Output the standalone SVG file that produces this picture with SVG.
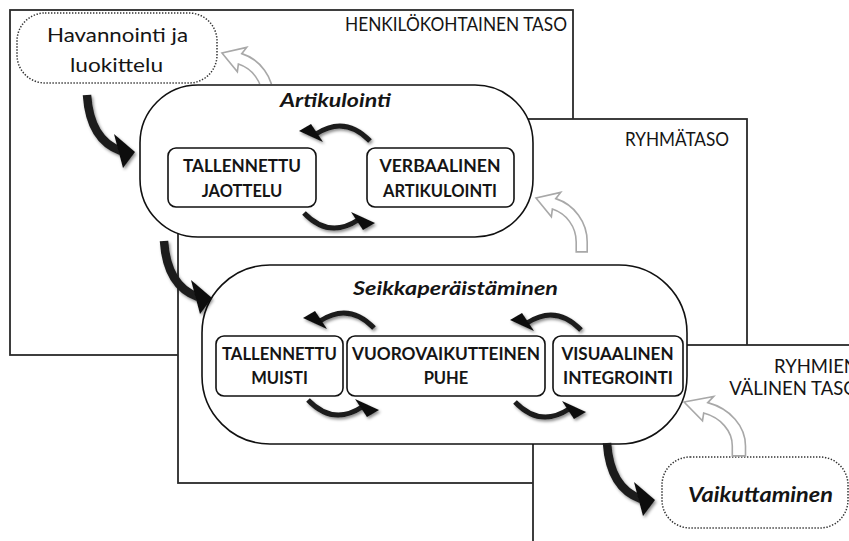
<svg xmlns="http://www.w3.org/2000/svg" width="849" height="541" viewBox="0 0 849 541">
  <style>
    text { font-family: Lato, "Open Sans", "Liberation Sans", sans-serif; fill: #151515; }
    .level { fill: #fff; stroke: #2a2a2a; stroke-width: 1.8; }
    .lvl-label { font-size: 18.5px; }
    .stage { fill: #fff; stroke: #111; stroke-width: 1.6; }
    .stage-title { font-size: 18px; font-weight: 700; font-style: italic; text-anchor: middle; }
    .step { fill: #fff; stroke: #111; stroke-width: 1.6; }
    .step-label { font-size: 16.5px; font-weight: 700; text-anchor: middle; }
    .endpoint { fill: #fff; stroke: #333; stroke-width: 1.5; stroke-dasharray: 1.4 1.6; }
    .flow-shaft { fill: none; stroke: #1c1c1c; stroke-width: 8.5; }
    .flow-head { fill: #111; }
    .cycle-shaft { fill: none; stroke: #1a1a1a; stroke-width: 5; }
    .cycle-head { fill: #111; }
    .feedback { fill: #fff; stroke: #a8a8a8; stroke-width: 1.6; stroke-linejoin: miter; }
  </style>
  <defs>
    <filter id="soft-shadow" x="-30%" y="-30%" width="160%" height="160%">
      <feDropShadow dx="1.5" dy="2" stdDeviation="1.6" flood-color="#000" flood-opacity="0.45"/>
    </filter>
    <clipPath id="above-artikulointi">
      <rect x="0" y="0" width="849" height="84"/>
    </clipPath>
    <!-- thick black flow arrow, tip at origin -->
    <g id="flow-arrow">
      <path class="flow-shaft" d="M -48 -57 Q -45 -12 -14 -1"/>
      <polygon class="flow-head" points="-21,-18 0,0 -12,16"/>
    </g>
    <!-- small cycle arrow, relative to the centre of the cycle -->
    <g id="cycle-arrow">
      <path class="cycle-shaft" d="M 33 -36 Q 8 -62 -21 -43"/>
      <polygon class="cycle-head" points="-38,-46 -26,-53 -14,-35"/>
    </g>
    <!-- hollow grey feedback arrow -->
    <path id="feedback-arrow" class="feedback" vector-effect="non-scaling-stroke" d="M 42.5 66 L 53.5 66 L 53.5 56 A 45.5 45.5 0 0 0 22.06 12.73 L 26.99 6.5 L 2.29 12.09 L 17.67 30.8 L 18.66 23.19 A 34.5 34.5 0 0 1 42.5 56 Z"/>
  </defs>

  <rect width="849" height="541" fill="#fff"/>

  <!-- levels -->
  <g id="level-personal">
    <rect class="level" x="10" y="10" width="563" height="345"/>
    <text class="lvl-label" x="567" y="31" text-anchor="end" textLength="222" lengthAdjust="spacingAndGlyphs">HENKILÖKOHTAINEN TASO</text>
  </g>
  <g id="level-group">
    <rect class="level" x="178" y="119" width="569" height="364"/>
    <text class="lvl-label" x="729" y="146" text-anchor="end" textLength="104" lengthAdjust="spacingAndGlyphs">RYHMÄTASO</text>
  </g>
  <g id="level-intergroup">
    <rect class="level" x="533" y="345" width="340" height="220"/>
    <text class="lvl-label" x="858" y="373" text-anchor="end">RYHMIEN</text>
    <text class="lvl-label" x="858" y="395" text-anchor="end">VÄLINEN TASO</text>
  </g>

  <!-- observation and classification -->
  <g id="havannointi">
    <rect class="endpoint" x="17" y="13" width="200" height="70" rx="28"/>
    <text x="117.5" y="42" font-size="19.5" text-anchor="middle" textLength="141" lengthAdjust="spacingAndGlyphs">Havannointi ja</text>
    <text x="116.5" y="72" font-size="19.5" text-anchor="middle" textLength="93" lengthAdjust="spacingAndGlyphs">luokittelu</text>
  </g>

  <!-- articulation stage -->
  <g id="artikulointi">
    <rect class="stage" x="140" y="85" width="393" height="152" rx="58"/>
    <text class="stage-title" x="335.5" y="107" textLength="111" lengthAdjust="spacingAndGlyphs">Artikulointi</text>
  </g>
  <g id="tallennettu-jaottelu">
    <rect class="step" x="168" y="148" width="148" height="59" rx="8"/>
    <text class="step-label" x="242" y="172" textLength="118" lengthAdjust="spacingAndGlyphs">TALLENNETTU</text>
    <text class="step-label" x="242" y="197">JAOTTELU</text>
  </g>
  <g id="verbaalinen-artikulointi">
    <rect class="step" x="367" y="148" width="147" height="59" rx="8"/>
    <text class="step-label" x="440" y="172" textLength="121" lengthAdjust="spacingAndGlyphs">VERBAALINEN</text>
    <text class="step-label" x="440" y="197">ARTIKULOINTI</text>
  </g>

  <!-- elaboration stage -->
  <g id="seikkaperaistaminen">
    <rect class="stage" x="202" y="265" width="485" height="179" rx="68"/>
    <text class="stage-title" x="455.5" y="295" textLength="205" lengthAdjust="spacingAndGlyphs">Seikkaperäistäminen</text>
  </g>
  <g id="tallennettu-muisti">
    <rect class="step" x="216" y="336" width="127" height="60" rx="8"/>
    <text class="step-label" x="279.5" y="360" textLength="115" lengthAdjust="spacingAndGlyphs">TALLENNETTU</text>
    <text class="step-label" x="279.5" y="384">MUISTI</text>
  </g>
  <g id="vuorovaikutteinen-puhe">
    <rect class="step" x="347" y="336" width="198" height="60" rx="8"/>
    <text class="step-label" x="446" y="360" textLength="188" lengthAdjust="spacingAndGlyphs">VUOROVAIKUTTEINEN</text>
    <text class="step-label" x="446" y="384">PUHE</text>
  </g>
  <g id="visuaalinen-integrointi">
    <rect class="step" x="553" y="336" width="130" height="60" rx="8"/>
    <text class="step-label" x="617.5" y="360" textLength="112" lengthAdjust="spacingAndGlyphs">VISUAALINEN</text>
    <text class="step-label" x="618" y="384" textLength="110" lengthAdjust="spacingAndGlyphs">INTEGROINTI</text>
  </g>

  <!-- influencing -->
  <g id="vaikuttaminen">
    <rect class="endpoint" x="662" y="457" width="186" height="71" rx="28"/>
    <text x="760.5" y="502" font-size="21" font-weight="700" font-style="italic" text-anchor="middle" textLength="145" lengthAdjust="spacingAndGlyphs">Vaikuttaminen</text>
  </g>

  <!-- connectors -->
  <g id="connectors">
    <!-- main flow -->
    <g filter="url(#soft-shadow)">
      <use href="#flow-arrow" transform="translate(135,152)"/>
      <use href="#flow-arrow" transform="translate(212,298)"/>
      <use href="#flow-arrow" transform="translate(655,500)"/>
    </g>
    <!-- cycles inside the stages -->
    <g filter="url(#soft-shadow)">
      <use href="#cycle-arrow" transform="translate(337,177)"/>
      <use href="#cycle-arrow" transform="translate(337,177) rotate(180)"/>
      <use href="#cycle-arrow" transform="translate(341,364)"/>
      <use href="#cycle-arrow" transform="translate(341,364) rotate(180)"/>
      <use href="#cycle-arrow" transform="translate(548,366)"/>
      <use href="#cycle-arrow" transform="translate(548,366) rotate(180)"/>
    </g>
    <!-- feedback to the previous level -->
    <g clip-path="url(#above-artikulointi)">
      <use href="#feedback-arrow" transform="translate(219.7,40.9)"/>
    </g>
    <use href="#feedback-arrow" transform="translate(533.7,185.9)"/>
    <use href="#feedback-arrow" transform="translate(681.3,389.9) scale(1.2,1)"/>
  </g>
</svg>
